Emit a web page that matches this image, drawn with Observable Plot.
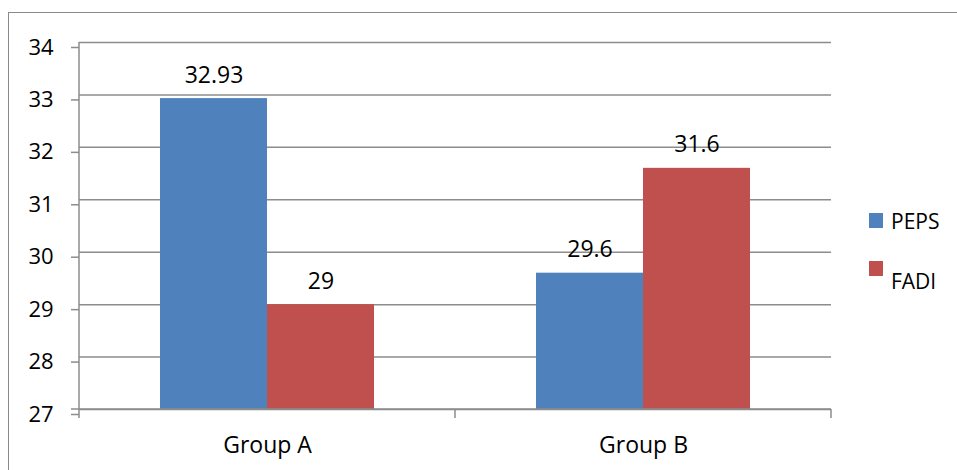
<!DOCTYPE html>
<html><head><meta charset="utf-8">
<script src="https://cdn.jsdelivr.net/npm/d3@7"></script>
<script src="https://cdn.jsdelivr.net/npm/@observablehq/plot@0.6"></script>
<style>
body{margin:0;background:#fff;}
#wrap{position:relative;width:957px;height:470px;overflow:hidden;background:#fff;}
#frame{position:absolute;left:8px;top:12px;width:1000px;height:600px;border:1.5px solid #8a8a8a;box-sizing:border-box;}
#chart{position:absolute;left:0;top:0;}
#legend{position:absolute;left:860px;top:200px;width:97px;height:110px;font-family:"Open Sans";font-size:21px;color:#000;}
.sw{position:absolute;width:14px;height:15px;}
.lt{position:absolute;left:31px;line-height:21px;white-space:nowrap;}
</style>
</head><body>
<div id="wrap"><div id="frame"></div><div id="chart"></div><div id="legend"></div></div>
<script>
const groups = ["Group A", "Group B"];
const series = ["PEPS", "FADI"];
const pepsValues = [32.93, 29.6];
const fadiValues = [29, 31.6];
const seriesColors = ["#4F81BD", "#C0504D"];
const yTicks = [27, 28, 29, 30, 31, 32, 33, 34];

const data = groups.flatMap((g, i) => [
  {group: g, series: series[0], value: pepsValues[i]},
  {group: g, series: series[1], value: fadiValues[i]}
]);

const gridColor = "#8c8c8c";
const chart = Plot.plot({
  width: 957, height: 470,
  marginLeft: 78, marginRight: 126, marginTop: 42, marginBottom: 61,
  style: {fontFamily: "Open Sans", fontSize: "22px", background: "transparent", overflow: "visible", color: "#000"},
  y: {domain: [27, 34], axis: null},
  fx: {domain: groups, padding: 0, axis: null},
  x: {domain: series, paddingInner: 0, paddingOuter: 0.751, axis: null},
  color: {domain: series, range: seriesColors},
  marks: [
    Plot.gridY(yTicks, {stroke: gridColor, strokeOpacity: 1, strokeWidth: 1.5}),
    Plot.axisY(yTicks, {tickSize: 8, tickPadding: 43, textAnchor: "start", dy: 5, tickFormat: d => String(d), stroke: gridColor, strokeWidth: 1.5, fontSize: 22, fill: "#000", label: null}),
    Plot.barY(data, {fx: "group", x: "series", y1: 27, y2: "value", fill: "series"}),
    Plot.text(data, {fx: "group", x: "series", y: "value", text: d => String(d.value), lineAnchor: "bottom", dy: -16, fontSize: 23, fill: "#000"}),
    Plot.axisFx({anchor: "bottom", tickSize: 0, tickPadding: 27, fontSize: 23, label: null})
  ]
});
document.getElementById("chart").appendChild(chart);

// axis lines and category boundary ticks, positioned with Plot's scales
const svg = d3.select(chart);
const fx = chart.scale("fx"), y = chart.scale("y");
const x0 = fx.apply(groups[0]);
const xEnd = fx.apply(groups[groups.length - 1]) + fx.bandwidth;
const yb = y.apply(27), yt = y.apply(34);
const g = svg.append("g").attr("stroke", gridColor).attr("stroke-width", 1.5);
g.append("line").attr("x1", x0).attr("x2", x0).attr("y1", yt).attr("y2", yb + 9);
g.append("line").attr("x1", x0 - 8).attr("x2", xEnd).attr("y1", yb).attr("y2", yb);
groups.forEach(gr => {
  const xl = fx.apply(gr) + fx.bandwidth;
  g.append("line").attr("x1", xl).attr("x2", xl).attr("y1", yb).attr("y2", yb + 9);
});

// legend
const legend = d3.select("#legend");
const swTops = [13, 61];
const txtTops = [11, 71];
series.forEach((s, i) => {
  legend.append("div").attr("class", "sw").style("left", "9px").style("top", swTops[i] + "px").style("background", seriesColors[i]);
  legend.append("div").attr("class", "lt").style("top", txtTops[i] + "px").text(s);
});
</script>
</body></html>
